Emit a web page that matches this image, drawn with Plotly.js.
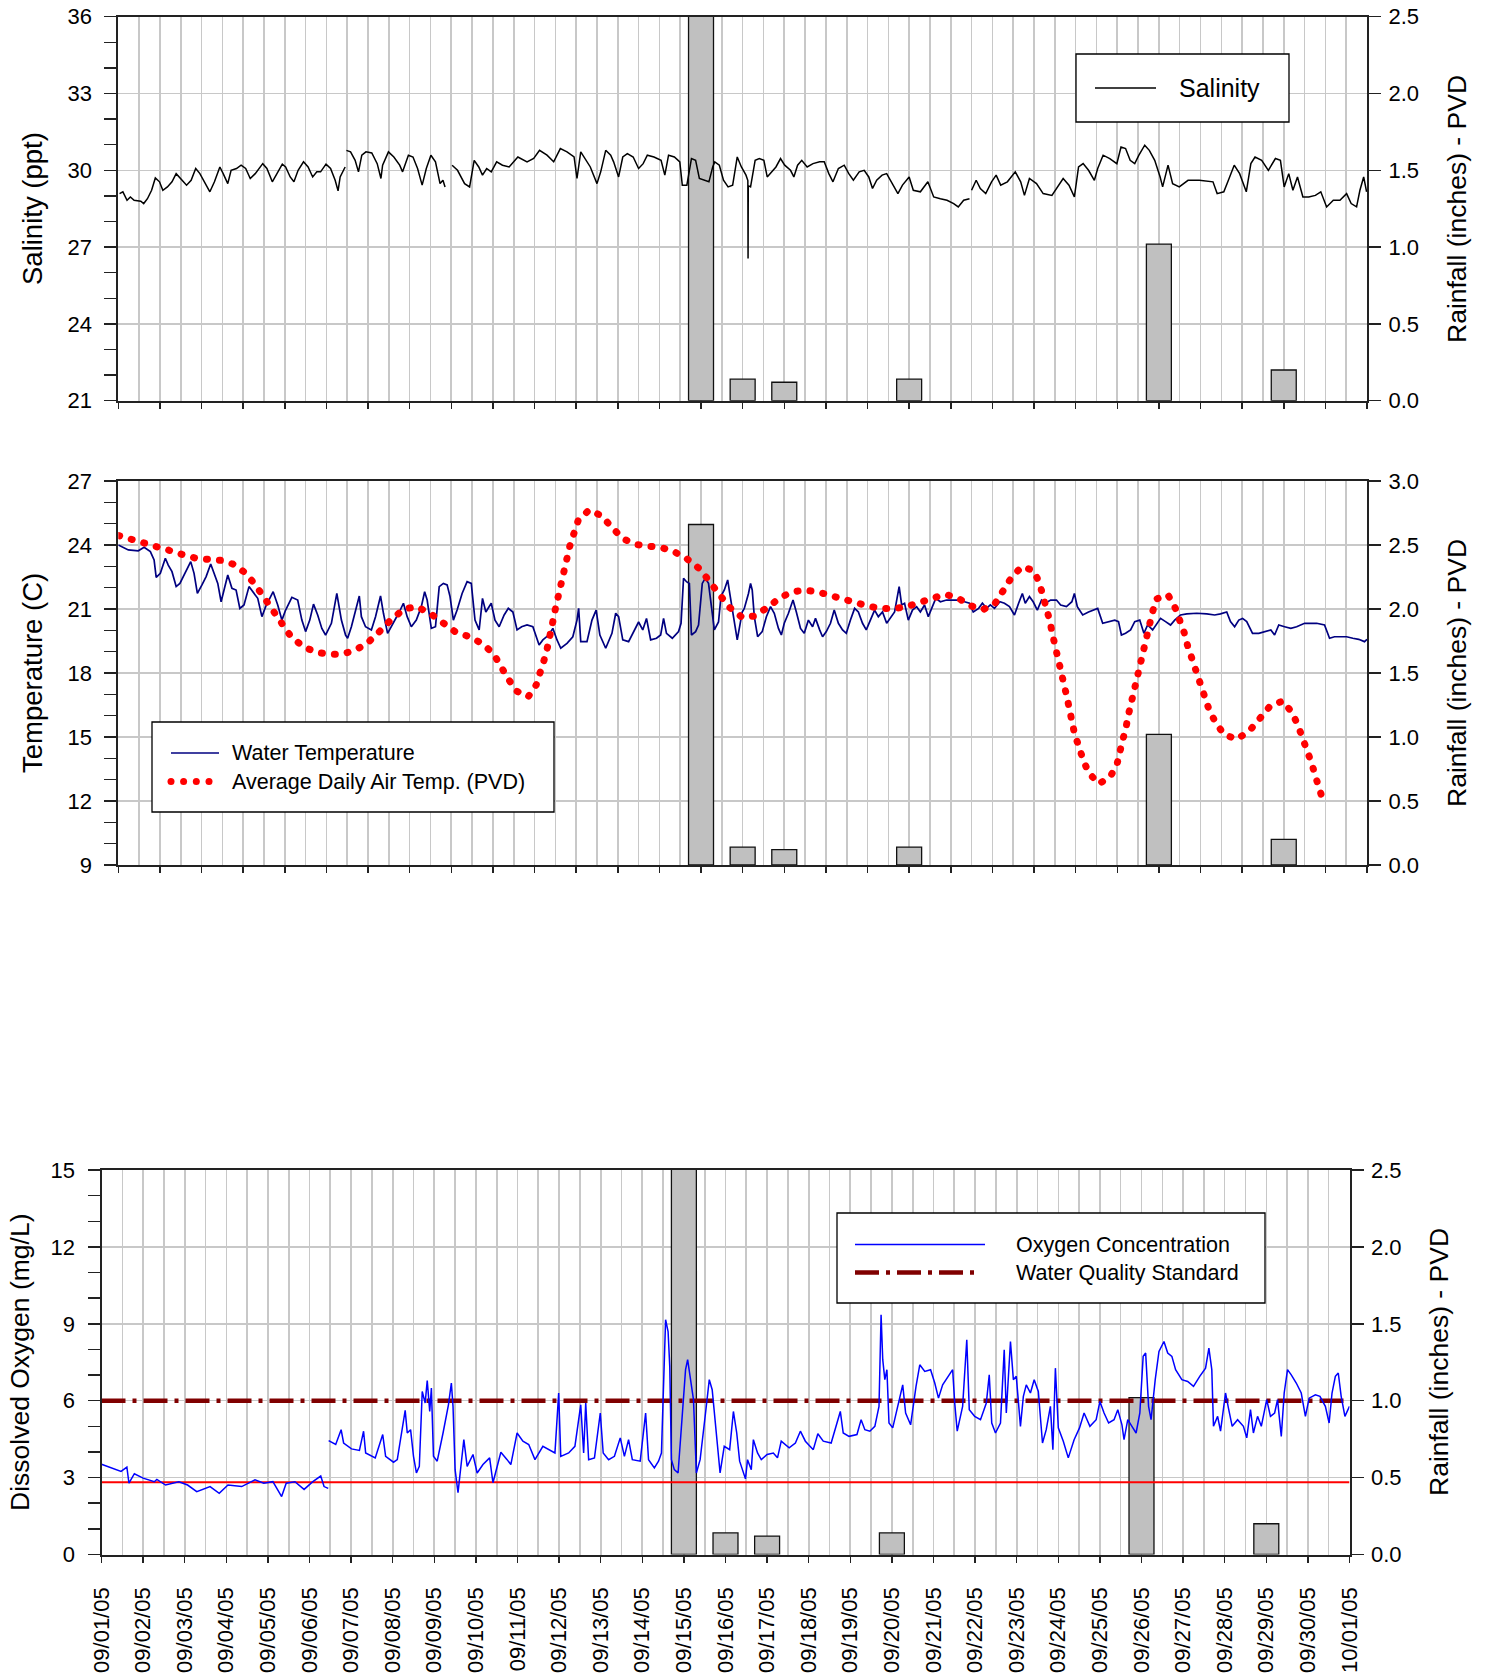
<!DOCTYPE html>
<html><head><meta charset="utf-8">
<script src="https://cdn.plot.ly/plotly-3.0.1.min.js"></script>
<style>
html,body{margin:0;padding:0;background:#fff;}
#chart{width:1490px;height:1676px;}
.traceairtemp .js-line{stroke-linecap:round !important;}
</style></head><body><div id="chart"></div>
<script>
// ---------------- DATA (days since 09/01/05 00:00) ----------------
const rainDays = [14, 15, 16, 19, 25, 28];
const rainInches = [2.66, 0.14, 0.12, 0.14, 1.02, 0.20];

const salDays = [0.03,0.11,0.21,0.29,0.38,0.54,0.61,0.70,0.80,0.89,0.99,1.07,1.18,1.29,1.39,1.50,1.64,1.75,1.86,1.96,2.09,2.20,2.31,2.44,2.52,2.63,2.71,2.84,2.95,3.06,3.17,3.29,3.47,3.57,3.70,3.81,3.94,4.02,4.13,4.22,4.32,4.45,4.56,4.67,4.77,4.86,4.99,5.10,5.21,5.28,5.33,5.45,5.465,5.48,5.58,5.69,5.77,5.85,5.95,6.09,6.22,6.31,6.35,6.49,6.62,6.76,6.83,6.97,7.08,7.19,7.30,7.40,7.51,7.62,7.73,7.80,7.85,7.93,8.02,8.15,8.32,8.44,8.55,8.66,8.75,8.85,8.96,9.09,9.23,9.39,9.60,9.82,9.98,10.12,10.30,10.46,10.62,10.78,10.95,11.02,11.11,11.21,11.34,11.50,11.59,11.71,11.83,11.90,12.02,12.12,12.23,12.37,12.50,12.61,12.71,12.87,13.04,13.13,13.22,13.36,13.49,13.55,13.66,13.77,13.87,13.96,14.06,14.19,14.28,14.33,14.44,14.54,14.65,14.76,14.87,14.97,15.08,15.125,15.13,15.135,15.19,15.30,15.40,15.51,15.59,15.69,15.80,15.91,16.01,16.15,16.23,16.32,16.42,16.55,16.69,16.85,16.96,17.07,17.17,17.30,17.44,17.55,17.66,17.80,17.92,18.03,18.12,18.22,18.35,18.46,18.57,18.73,18.84,19.00,19.10,19.27,19.45,19.59,19.75,19.91,20.07,20.18,20.31,20.45,20.475,20.50,20.61,20.71,20.84,20.98,21.09,21.20,21.36,21.55,21.68,21.77,21.89,22.06,22.22,22.43,22.59,22.70,22.84,22.97,23.07,23.18,23.31,23.45,23.53,23.66,23.82,23.99,24.09,24.20,24.31,24.42,24.52,24.66,24.77,24.90,25.03,25.09,25.22,25.33,25.49,25.70,25.97,26.30,26.40,26.56,26.67,26.81,26.94,27.10,27.21,27.31,27.47,27.63,27.80,27.92,28.01,28.12,28.22,28.33,28.46,28.60,28.76,28.89,29.03,29.19,29.35,29.51,29.62,29.75,29.83,29.92,29.99];
const salPpt = [29.09,29.16,28.83,28.96,28.83,28.79,28.70,28.89,29.22,29.70,29.55,29.22,29.35,29.55,29.87,29.68,29.42,29.61,30.07,29.87,29.48,29.16,29.55,30.13,29.87,29.48,30.00,30.07,30.20,30.07,29.68,29.87,30.26,30.07,29.55,29.87,30.24,30.13,29.74,29.55,30.00,30.33,30.13,29.74,29.94,29.94,30.24,30.07,29.61,29.20,29.74,30.13,null,30.78,30.72,30.39,29.94,30.59,30.72,30.68,30.26,29.68,30.20,30.72,30.52,30.20,29.94,30.59,30.52,30.07,29.42,30.07,30.59,30.33,29.48,29.61,29.35,null,30.20,30.00,29.48,29.35,30.39,30.13,29.81,30.07,29.94,30.33,30.20,30.13,30.52,30.33,30.46,30.78,30.59,30.33,30.85,30.72,30.52,29.68,30.72,30.46,30.13,29.48,29.94,30.78,30.59,30.33,29.74,30.52,30.65,30.52,30.07,30.26,30.59,30.52,30.39,29.81,30.59,30.52,30.33,29.42,29.42,30.46,30.39,29.68,29.61,29.55,30.13,30.33,30.20,29.61,29.35,29.42,30.52,30.13,29.81,29.60,26.55,29.40,29.35,30.39,30.46,30.39,29.74,29.94,30.13,30.46,30.20,30.00,29.74,30.20,30.39,30.13,30.26,30.33,30.33,29.87,29.55,30.07,30.20,29.87,29.61,29.94,30.00,29.74,29.29,29.61,29.81,29.87,29.55,29.09,29.42,29.74,29.22,29.16,29.55,28.96,28.89,28.83,28.70,28.57,28.83,28.89,null,29.22,29.61,29.29,29.09,29.55,29.81,29.42,29.55,29.94,29.55,29.02,29.68,29.48,29.09,29.02,29.42,29.68,29.42,28.96,30.13,30.26,30.00,29.61,30.07,30.59,30.46,30.26,30.91,30.85,30.39,30.26,30.59,30.98,30.78,30.39,29.74,29.35,30.20,29.48,29.35,29.61,29.61,29.55,29.09,29.16,29.61,30.20,29.87,29.16,30.26,30.52,30.39,30.00,30.46,30.39,29.35,29.87,29.22,29.74,28.96,28.96,29.02,29.16,28.57,28.83,28.83,29.09,28.70,28.57,29.22,29.74,29.16];

const wtDays = [0,0.24,0.48,0.62,0.77,0.86,0.91,1.01,1.13,1.20,1.29,1.39,1.48,1.63,1.74,1.82,1.90,2.01,2.11,2.22,2.30,2.39,2.47,2.54,2.63,2.73,2.83,2.92,3.02,3.14,3.26,3.35,3.45,3.54,3.72,3.83,3.93,4.02,4.17,4.31,4.41,4.50,4.60,4.69,4.79,4.89,4.98,5.12,5.25,5.36,5.46,5.51,5.60,5.72,5.79,5.84,5.94,6.08,6.18,6.30,6.37,6.47,6.61,6.75,6.85,6.94,7.04,7.16,7.28,7.36,7.42,7.52,7.62,7.71,7.81,7.90,7.97,8.05,8.14,8.26,8.38,8.48,8.57,8.67,8.75,8.83,8.96,9.05,9.15,9.27,9.37,9.48,9.58,9.69,9.82,9.96,10.11,10.20,10.34,10.44,10.54,10.63,10.78,10.92,11.02,11.06,11.11,11.26,11.38,11.48,11.57,11.71,11.86,11.95,12.02,12.12,12.26,12.40,12.50,12.60,12.69,12.79,12.93,13.03,13.10,13.17,13.31,13.46,13.52,13.58,13.65,13.72,13.77,13.87,13.94,14.03,14.10,14.18,14.25,14.32,14.42,14.48,14.56,14.64,14.70,14.80,14.87,14.99,15.04,15.14,15.19,15.23,15.28,15.36,15.47,15.57,15.67,15.76,15.86,15.93,16.00,16.10,16.21,16.29,16.39,16.48,16.58,16.68,16.75,16.85,16.92,17.01,17.11,17.20,17.30,17.40,17.49,17.59,17.69,17.78,17.88,17.97,18.07,18.17,18.26,18.36,18.46,18.55,18.65,18.76,18.82,18.89,18.98,19.08,19.18,19.27,19.37,19.46,19.54,19.64,19.75,19.90,20.04,20.19,20.33,20.45,20.54,20.67,20.76,20.86,20.95,21.05,21.18,21.29,21.41,21.53,21.63,21.72,21.79,21.89,21.98,22.08,22.18,22.27,22.40,22.54,22.64,22.78,22.91,22.97,23.04,23.17,23.31,23.45,23.53,23.65,23.79,23.94,24.03,24.10,24.20,24.32,24.42,24.54,24.64,24.73,24.85,24.95,25.04,25.16,25.28,25.38,25.52,25.67,25.91,26.15,26.34,26.48,26.63,26.72,26.82,26.92,27.01,27.11,27.25,27.40,27.54,27.69,27.78,27.88,28.02,28.17,28.31,28.50,28.79,28.98,29.10,29.22,29.37,29.51,29.66,29.80,29.94,30.0];
const wtC = [24.0,23.77,23.73,23.89,23.69,23.3,22.48,22.67,23.38,23.06,22.75,22.05,22.2,22.83,23.22,22.67,21.73,22.13,22.52,23.11,22.67,22.2,21.34,21.89,22.59,21.97,21.89,21.03,21.19,22.05,21.73,21.5,20.64,21.11,21.81,21.19,20.48,20.95,21.55,21.42,20.48,19.94,20.48,21.23,20.72,20.09,19.78,20.33,21.73,20.48,19.78,19.63,20.17,21.11,21.61,20.64,20.17,20.02,20.64,21.61,20.8,19.86,20.33,20.86,21.27,20.64,20.17,20.48,21.11,21.81,21.42,20.09,20.17,22.05,22.2,22.13,21.58,20.48,20.95,21.73,22.28,22.2,20.48,20.02,21.5,20.86,21.27,20.48,20.17,20.72,21.03,20.86,20.02,20.17,20.25,20.17,19.31,19.55,19.78,20.09,19.55,19.16,19.39,19.7,20.48,21.03,19.47,19.47,20.48,20.95,19.78,19.16,19.86,20.8,20.64,19.55,19.47,20.02,20.39,20.02,20.56,19.55,19.63,19.78,20.56,19.86,19.63,19.94,20.33,22.44,22.28,22.2,19.78,19.94,20.25,22.2,22.44,22.2,21.19,20.02,20.39,21.61,21.89,22.36,21.61,20.33,19.55,20.86,21.03,21.73,22.2,21.89,20.64,19.7,19.94,20.64,21.11,20.8,20.09,19.78,20.33,20.8,21.42,20.86,20.09,19.86,20.48,20.17,20.56,20.02,19.7,19.94,20.33,20.95,20.33,20.02,19.86,20.48,21.03,20.86,20.33,20.02,20.48,20.95,20.64,20.86,20.33,20.56,20.86,22.05,21.19,21.27,20.48,20.95,21.11,20.86,21.19,20.64,21.03,21.5,21.34,21.42,21.42,21.42,21.34,21.27,20.86,21.03,21.27,21.03,21.19,21.03,21.34,21.27,21.11,20.72,21.27,21.73,21.27,21.58,21.34,20.95,21.42,21.27,21.42,21.42,21.19,21.11,21.34,21.73,21.11,20.72,20.86,20.95,21.03,20.33,20.41,20.48,20.41,19.78,19.86,20.02,20.41,20.48,19.86,20.25,20.02,20.33,20.56,20.41,20.25,20.48,20.72,20.77,20.8,20.77,20.72,20.77,20.86,20.41,20.17,20.48,20.56,20.41,19.86,19.86,19.94,20.02,19.78,20.25,20.17,20.09,20.17,20.33,20.33,20.25,19.63,19.7,19.7,19.7,19.63,19.58,19.47,19.58];

const airDays = [0.01,0.33,0.62,0.93,1.22,1.53,1.85,2.15,2.46,2.75,3.05,3.30,3.51,3.70,3.89,4.15,4.45,4.76,5.06,5.36,5.67,5.98,6.28,6.57,6.87,7.17,7.48,7.78,8.09,8.39,8.69,9.00,9.17,9.36,9.56,9.85,10.04,10.15,10.23,10.31,10.39,10.44,10.50,10.58,10.64,10.72,10.78,10.85,10.93,11.05,11.31,11.62,11.88,12.15,12.46,12.77,13.08,13.37,13.67,13.98,14.21,14.44,14.68,15.00,15.28,15.59,15.90,16.20,16.51,16.81,17.12,17.43,17.73,18.03,18.33,18.64,18.94,19.24,19.54,19.86,20.16,20.47,20.77,21.06,21.25,21.44,21.70,21.99,22.13,22.22,22.29,22.38,22.44,22.52,22.58,22.65,22.72,22.79,22.84,22.91,22.98,23.09,23.18,23.32,23.56,23.84,24.00,24.07,24.16,24.22,24.28,24.35,24.41,24.47,24.53,24.60,24.67,24.75,24.85,24.94,25.22,25.39,25.52,25.61,25.69,25.79,25.88,25.97,26.08,26.20,26.35,26.56,26.87,27.17,27.43,27.67,27.98,28.20,28.34,28.46,28.58,28.67,28.76,28.86,28.95];
const airC = [24.44,24.28,24.11,23.95,23.75,23.56,23.39,23.33,23.28,23.11,22.7,22.11,21.52,20.92,20.33,19.7,19.23,18.97,18.88,18.88,19.05,19.39,19.95,20.53,21.0,21.11,20.81,20.36,19.94,19.73,19.44,18.95,18.34,17.75,17.16,16.89,17.44,18.02,18.61,19.2,19.81,20.41,21.0,21.59,22.19,22.78,23.38,23.97,24.56,25.16,25.64,25.36,24.77,24.27,24.02,23.94,23.86,23.67,23.34,22.86,22.27,21.67,21.08,20.59,20.67,21.06,21.53,21.81,21.88,21.8,21.63,21.44,21.25,21.13,21.02,21.02,21.11,21.31,21.53,21.69,21.53,21.16,20.97,21.25,21.83,22.42,22.98,22.81,22.22,21.63,21.03,20.44,19.84,19.25,18.66,18.06,17.47,16.88,16.28,15.69,15.09,14.5,13.91,13.31,12.8,13.16,13.77,14.36,14.95,15.55,16.14,16.73,17.33,17.92,18.52,19.11,19.7,20.3,20.88,21.47,21.66,21.06,20.47,19.88,19.28,18.69,18.09,17.5,16.91,16.31,15.72,15.13,14.89,15.28,15.88,16.45,16.69,16.14,15.55,14.95,14.36,13.77,13.17,12.58,11.98];

const doDays = [0,0.25,0.47,0.61,0.66,0.79,1.0,1.27,1.33,1.54,1.86,2.07,2.29,2.61,2.83,3.04,3.37,3.69,3.90,4.12,4.33,4.44,4.65,4.87,5.08,5.27,5.35,5.45,5.455,5.46,5.63,5.76,5.82,6.01,6.20,6.30,6.35,6.58,6.76,6.83,7.02,7.11,7.30,7.35,7.43,7.50,7.57,7.64,7.71,7.78,7.83,7.89,7.93,7.98,8.07,8.21,8.34,8.41,8.45,8.50,8.57,8.71,8.79,8.93,9.03,9.17,9.33,9.41,9.60,9.75,9.84,9.99,10.13,10.27,10.42,10.61,10.75,10.90,10.99,11.04,11.23,11.38,11.52,11.59,11.64,11.71,11.85,11.99,12.06,12.19,12.33,12.47,12.57,12.67,12.76,12.95,13.08,13.15,13.29,13.39,13.46,13.56,13.62,13.66,13.70,13.77,13.86,13.96,14.04,14.09,14.15,14.23,14.30,14.39,14.52,14.61,14.68,14.78,14.87,14.97,15.10,15.19,15.27,15.34,15.48,15.53,15.62,15.67,15.77,15.86,16.00,16.15,16.25,16.34,16.53,16.68,16.80,16.92,17.11,17.22,17.35,17.54,17.63,17.76,17.83,17.97,18.16,18.26,18.35,18.47,18.59,18.69,18.74,18.78,18.83,18.88,18.93,19.02,19.14,19.26,19.33,19.45,19.58,19.67,19.79,19.93,20.03,20.12,20.22,20.32,20.46,20.51,20.57,20.70,20.80,20.86,20.99,21.13,21.27,21.34,21.40,21.49,21.61,21.70,21.75,21.85,21.92,21.99,22.09,22.16,22.23,22.33,22.42,22.52,22.62,22.71,22.81,22.87,22.93,23.00,23.12,23.24,23.38,23.51,23.62,23.76,23.91,24.00,24.10,24.21,24.34,24.43,24.53,24.58,24.67,24.77,24.87,24.96,25.04,25.10,25.17,25.23,25.33,25.42,25.54,25.63,25.73,25.82,25.97,26.11,26.25,26.40,26.54,26.62,26.69,26.73,26.83,26.90,27.02,27.09,27.18,27.31,27.45,27.53,27.62,27.69,27.79,27.88,28.01,28.10,28.20,28.27,28.36,28.43,28.51,28.60,28.72,28.84,28.94,29.03,29.18,29.29,29.42,29.51,29.58,29.66,29.73,29.80,29.89,30.0];
const doMgL = [3.52,3.37,3.24,3.41,2.78,3.15,2.98,2.84,2.93,2.71,2.84,2.71,2.45,2.65,2.39,2.71,2.65,2.91,2.78,2.84,2.26,2.78,2.84,2.54,2.84,3.06,2.65,2.58,null,4.44,4.29,4.87,4.35,4.12,4.06,4.81,3.96,3.77,4.68,3.83,3.6,3.7,5.62,4.74,4.87,3.83,3.18,3.44,6.36,5.91,6.79,5.58,6.49,3.83,3.64,4.74,5.84,6.69,5.78,3.31,2.41,4.48,3.44,3.9,3.18,3.51,3.77,2.8,3.99,3.7,3.51,4.74,4.42,4.29,3.7,4.22,4.09,3.96,6.3,3.83,3.96,4.22,5.84,3.96,5.91,3.7,3.77,5.52,3.96,3.7,3.83,4.55,3.83,4.48,3.7,3.64,5.52,3.7,3.38,3.64,3.96,9.16,8.7,7.34,3.7,3.31,3.18,5.26,7.21,7.6,6.95,6.04,3.18,3.7,5.52,6.82,6.43,4.61,3.18,4.22,4.09,5.58,4.74,3.64,2.95,3.7,3.31,4.48,3.96,3.7,3.9,3.96,3.77,4.42,4.16,4.35,4.81,4.42,4.09,4.71,4.42,4.35,4.87,5.58,4.74,4.61,4.68,5.26,4.87,4.81,5.0,5.78,9.35,7.6,6.82,7.21,5.13,4.94,5.78,6.62,5.52,5.06,6.56,7.4,7.14,7.21,6.69,6.1,6.62,6.88,7.21,5.91,4.81,5.78,8.38,5.65,5.39,5.26,5.91,7.01,5.13,4.74,5.13,7.99,5.52,8.31,6.82,6.95,5.0,6.17,6.62,6.3,6.82,6.36,4.35,4.87,5.78,4.09,7.27,4.94,4.42,3.77,4.48,4.94,5.52,5.0,5.26,5.97,5.52,5.13,5.26,5.65,5.06,4.48,5.26,5.0,4.74,5.52,7.73,7.86,5.78,5.26,6.82,7.92,8.31,7.86,7.73,7.21,6.82,6.75,6.56,6.95,7.27,8.05,7.21,5.0,5.39,4.81,6.3,5.71,5.0,5.26,5.0,4.55,5.65,4.74,5.39,5.0,6.04,5.39,5.52,6.04,4.61,6.3,7.21,7.01,6.69,6.3,5.39,6.1,6.23,6.17,5.78,5.13,6.3,6.95,7.08,6.17,5.39,5.78];

const stdDays = [0, 30];
const stdMgL = [6, 6];
const lowDays = [0, 30];
const lowMgL = [2.82, 2.82];

const dateTicks = {start: '2005-09-01', end: '2005-10-01'};

// ---------------- helpers ----------------
const DAY = 86400000, T0 = Date.UTC(2005, 8, 1);
function toDate(d) { return new Date(T0 + Math.round(d * DAY)).toISOString().replace('T', ' ').replace('Z', ''); }
const W = 1490, H = 1676;
const fx = px => px / W, fy = py => 1 - py / H;
const FONT = 'Liberation Sans, Arial, sans-serif';
const GRID = '#c8c8c8', AX = '#222';

const P1 = {l:118.3, r:1367, t:16.7, b:400.7};
const P2 = {l:118.3, r:1367, t:481, b:865};
const P3 = {l:101.5, r:1349.5, t:1170, b:1554.5};

function xAxis(P, anchor, labels) {
  return {
    type:'date', domain:[fx(P.l), fx(P.r)], anchor:anchor,
    range:[dateTicks.start, dateTicks.end], tick0:dateTicks.start, dtick:DAY,
    tickformat:'%m/%d/%y', ticks:'outside', ticklen:6, tickwidth:1.5, tickcolor:AX,
    showticklabels:labels, tickangle:-90, ticklabelstandoff:16,
    tickfont:{family:FONT, size:22, color:'#000'},
    showgrid:true, gridcolor:GRID, gridwidth:1.6,
    minor:{dtick:DAY/2, showgrid:true, gridcolor:GRID, gridwidth:1.6},
    showline:true, linecolor:AX, linewidth:2, mirror:true, zeroline:false
  };
}
function rainAxis(P, anchor, max) {
  return {
    domain:[fy(P.b), fy(P.t)], anchor:anchor, side:'right', range:[0, max], dtick:0.5,
    tickformat:'.1f', ticks:'outside', ticklen:12, tickwidth:1.5, tickcolor:AX,
    ticklabelstandoff:3, tickfont:{family:FONT, size:22, color:'#000'},
    showgrid:false, showline:true, linecolor:AX, linewidth:2, zeroline:false
  };
}
function leftAxis(over, anchor, lo, hi) {
  return {
    overlaying:over, anchor:anchor, side:'left', range:[lo, hi], dtick:3, tick0:0,
    ticks:'outside', ticklen:12, tickwidth:1.5, tickcolor:AX, ticklabelstandoff:8,
    tickfont:{family:FONT, size:22, color:'#000'},
    minor:{dtick:1, ticks:'outside', ticklen:12, tickwidth:1.5, tickcolor:AX, showgrid:false},
    showgrid:true, gridcolor:GRID, gridwidth:1.6,
    showline:true, linecolor:AX, linewidth:2, zeroline:false
  };
}

const rainX = rainDays.map(toDate);
function bars(xa, ya) {
  return {type:'bar', x:rainX, y:rainInches, xaxis:xa, yaxis:ya, width:0.6*DAY,
    marker:{color:'#c0c0c0', line:{color:'#111', width:1.3}}, hoverinfo:'skip', showlegend:false};
}
function line(days, vals, xa, ya, color, width, extra) {
  return Object.assign({type:'scatter', mode:'lines', x:days.map(toDate), y:vals, xaxis:xa, yaxis:ya,
    line:{color:color, width:width}, connectgaps:false, hoverinfo:'skip', showlegend:false}, extra || {});
}

const data = [
  bars('x', 'y'),
  line(salDays, salPpt, 'x', 'y2', '#000', 1.5, {name:'Salinity'}),
  bars('x2', 'y3'),
  line(wtDays, wtC, 'x2', 'y4', '#000080', 1.7, {name:'Water Temperature'}),
  line(airDays, airC, 'x2', 'y4', '#ff0000', 7, {name:'Average Daily Air Temp. (PVD)', uid:'airtemp',
       line:{color:'#ff0000', width:7, dash:'1px,12px'}}),
  bars('x3', 'y5'),
  line(lowDays, lowMgL, 'x3', 'y6', '#ff0000', 2),
  line(stdDays, stdMgL, 'x3', 'y6', '#800000', 4.5, {name:'Water Quality Standard',
       line:{color:'#800000', width:4.5, dash:'24px,7px,4px,7px'}}),
  line(doDays, doMgL, 'x3', 'y6', '#0000ff', 1.5, {name:'Oxygen Concentration'})
];

// ---------------- legends & titles (drawn as layout shapes / annotations) ----------------
function rect(x0, y0, x1, y1) {
  return {type:'rect', xref:'paper', yref:'paper', x0:fx(x0), x1:fx(x1), y0:fy(y1), y1:fy(y0),
    fillcolor:'#fff', line:{color:'#000', width:1.3}, layer:'above'};
}
function seg(x0, x1, y, color, width, dash) {
  return {type:'line', xref:'paper', yref:'paper', x0:fx(x0), x1:fx(x1), y0:fy(y), y1:fy(y),
    line:{color:color, width:width, dash:dash || 'solid'}, layer:'above'};
}
function dot(cx, cy, r, color) {
  return {type:'circle', xref:'paper', yref:'paper', x0:fx(cx-r), x1:fx(cx+r), y0:fy(cy+r), y1:fy(cy-r),
    fillcolor:color, line:{width:0}, layer:'above'};
}
const shapes = [
  rect(1076, 54, 1289, 122), seg(1095, 1156, 88, '#000', 1.5),
  rect(152, 722, 554, 812), seg(171, 219, 753, '#000080', 1.7),
  dot(171, 781.5, 3.5, '#ff0000'), dot(183.6, 781.5, 3.5, '#ff0000'), dot(196.3, 781.5, 3.5, '#ff0000'), dot(209, 781.5, 3.5, '#ff0000'),
  rect(837, 1213, 1265, 1303), seg(855, 985, 1244.5, '#0000ff', 1.5),
  seg(855, 979, 1272.5, '#800000', 4.5, '24px,7px,4px,7px')
];
function txt(text, x, y, size, opts) {
  return Object.assign({text:text, xref:'paper', yref:'paper', x:fx(x), y:fy(y), showarrow:false,
    xanchor:'left', yanchor:'middle', font:{family:FONT, size:size, color:'#000'}}, opts || {});
}
const vt = {xanchor:'center', textangle:-90};
const annotations = [
  txt('Salinity', 1177, 88, 25),
  txt('Water Temperature', 230, 753, 21.5),
  txt('Average Daily Air Temp. (PVD)', 230, 781.5, 21.5),
  txt('Oxygen Concentration', 1014, 1245, 21.5),
  txt('Water Quality Standard', 1014, 1273, 21.5),
  txt('Salinity (ppt)', 32, 209, 27.5, vt),
  txt('Temperature (C)', 32, 673, 27.5, vt),
  txt('Dissolved Oxygen (mg/L)', 20, 1362, 26.5, vt),
  txt('Rainfall (inches) - PVD', 1457, 209, 26.5, vt),
  txt('Rainfall (inches) - PVD', 1457, 673, 26.5, vt),
  txt('Rainfall (inches) - PVD', 1439, 1362, 26.5, vt)
];

const layout = {
  width:W, height:H, margin:{l:0, r:0, t:0, b:0}, paper_bgcolor:'#fff', plot_bgcolor:'#fff',
  showlegend:false, barmode:'overlay', font:{family:FONT, color:'#000'},
  xaxis: xAxis(P1, 'y', false),
  yaxis: rainAxis(P1, 'x', 2.5),
  yaxis2: leftAxis('y', 'x', 21, 36),
  xaxis2: xAxis(P2, 'y3', false),
  yaxis3: rainAxis(P2, 'x2', 3.0),
  yaxis4: leftAxis('y3', 'x2', 9, 27),
  xaxis3: xAxis(P3, 'y5', true),
  yaxis5: rainAxis(P3, 'x3', 2.5),
  yaxis6: leftAxis('y5', 'x3', 0, 15),
  shapes: shapes, annotations: annotations
};
Plotly.newPlot('chart', data, layout, {staticPlot:true, displayModeBar:false});
</script></body></html>
